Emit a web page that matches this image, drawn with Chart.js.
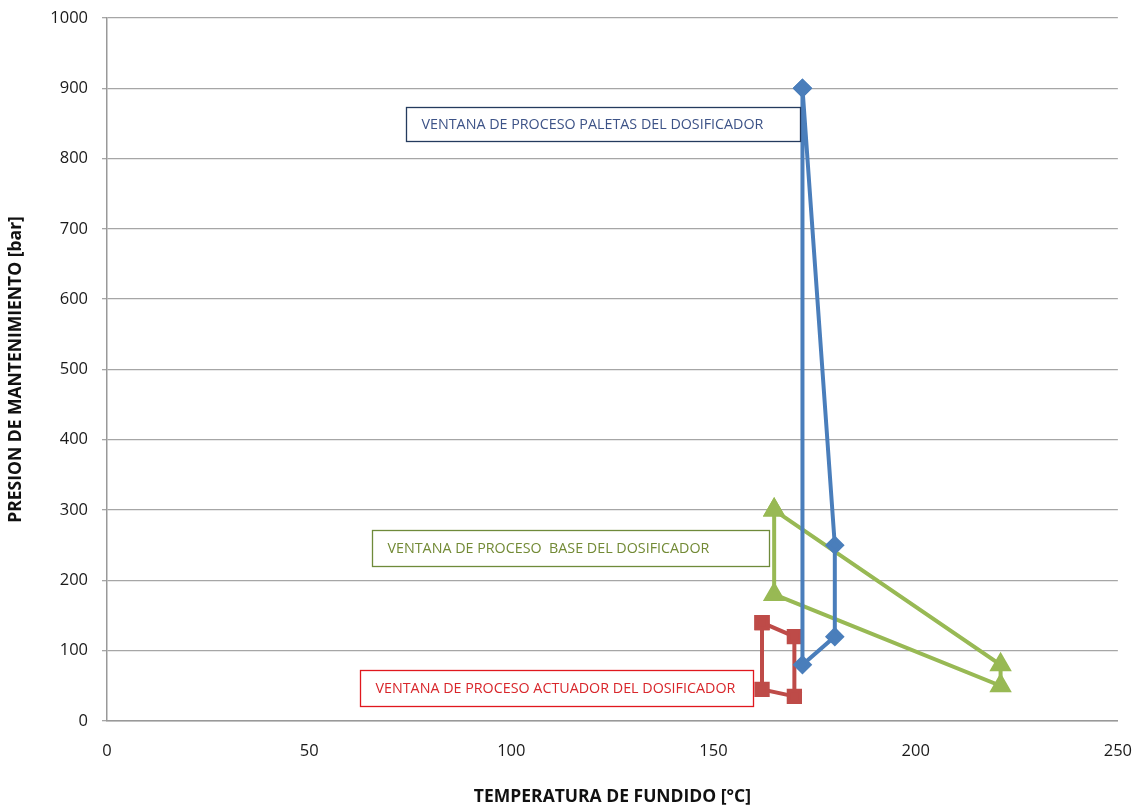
<!DOCTYPE html>
<html><head><meta charset="utf-8">
<script src="https://cdn.jsdelivr.net/npm/chart.js@4/dist/chart.umd.min.js"></script>
<style>html,body{margin:0;padding:0;background:#fff;overflow:hidden}#wrap{width:1138px;height:808px;overflow:hidden;position:relative}#c{position:absolute;left:0;top:-6px}</style>
</head><body><div id="wrap"><canvas id="c" width="1152" height="814"></canvas></div>
<script>
const xTitle = 'TEMPERATURA DE FUNDIDO [°C]';
const yTitle = 'PRESION DE MANTENIMIENTO [bar]';
const xTicks = [0, 50, 100, 150, 200, 250];
const yTicks = [0, 100, 200, 300, 400, 500, 600, 700, 800, 900, 1000];

const paletasX = [172, 172, 180, 180, 172];
const paletasY = [900, 80, 120, 250, 900];
const baseX = [165, 165, 221, 221, 165];
const baseY = [300, 180, 50, 80, 300];
const actuadorX = [162, 170, 170, 162, 162];
const actuadorY = [140, 120, 35, 45, 140];

const labelPaletas = 'VENTANA DE PROCESO PALETAS DEL DOSIFICADOR';
const labelBase = 'VENTANA DE PROCESO  BASE DEL DOSIFICADOR';
const labelActuador = 'VENTANA DE PROCESO ACTUADOR DEL DOSIFICADOR';

const pts = (xs, ys) => xs.map((x, i) => ({x, y: ys[i]}));

const boxes = [
  {text: labelPaletas, x0: 73.9, x1: 171.4, y0: 873.6, y1: 825.3, border: '#243b5e', color: '#3d5387'},
  {text: labelBase, x0: 65.5, x1: 163.7, y0: 271.3, y1: 220.2, border: '#6f8a3a', color: '#728a35'},
  {text: labelActuador, x0: 62.6, x1: 159.7, y0: 72.4, y1: 21.3, border: '#e0181e', color: '#d8262b'}
];

const FONT = '"Open Sans", Lato, sans-serif';

const boxPlugin = {
  id: 'boxes',
  afterDatasetsDraw(chart) {
    const ctx = chart.ctx, xs = chart.scales.x, ys = chart.scales.y;
    ctx.save();
    boxes.forEach(b => {
      const l = Math.round(xs.getPixelForValue(b.x0)) + 0.5;
      const r = Math.round(xs.getPixelForValue(b.x1)) + 0.5;
      const t = Math.round(ys.getPixelForValue(b.y0)) + 0.5;
      const bt = Math.round(ys.getPixelForValue(b.y1)) + 0.5;
      ctx.fillStyle = '#fff';
      ctx.fillRect(l, t, r - l, bt - t);
      ctx.strokeStyle = b.border; ctx.lineWidth = 1.3;
      ctx.strokeRect(l, t, r - l, bt - t);
      ctx.fillStyle = b.color;
      ctx.font = '14.3px ' + FONT;
      ctx.textBaseline = 'middle'; ctx.textAlign = 'left';
      ctx.fillText(b.text, l + 15, (t + bt) / 2);
    });
    ctx.restore();
  }
};

new Chart(document.getElementById('c'), {
  type: 'scatter',
  data: {
    datasets: [
      {data: pts(paletasX, paletasY), borderColor: '#4a7ebb', backgroundColor: '#4a7ebb', showLine: true, borderWidth: 4, pointStyle: 'rectRot', pointRadius: 7, pointHoverRadius: 7},
      {data: pts(baseX, baseY), borderColor: '#98b954', backgroundColor: '#98b954', showLine: true, borderWidth: 4, pointStyle: 'triangle', pointRadius: 9, pointHoverRadius: 9},
      {data: pts(actuadorX, actuadorY), borderColor: '#be4b48', backgroundColor: '#be4b48', showLine: true, borderWidth: 4, pointStyle: 'rect', pointRadius: 8, pointHoverRadius: 8}
    ]
  },
  options: {
    responsive: false, animation: false,
    layout: {padding: {left: 0, right: 4, top: 9, bottom: 0}},
    plugins: {legend: {display: false}, tooltip: {enabled: false}},
    scales: {
      x: {
        type: 'linear', min: 0, max: 250,
        afterBuildTicks: s => { s.ticks = xTicks.map(v => ({value: v})); },
        afterFit: s => { s.height = 87; },
        grid: {display: false, drawTicks: false},
        border: {color: '#999', width: 1.5},
        ticks: {color: '#1a1a1a', font: {family: FONT, size: 16.5}, padding: 20, maxRotation: 0, callback: v => String(v)},
        title: {display: true, text: xTitle, color: '#111', font: {family: FONT, size: 17.5, weight: 'bold'}, padding: {top: 8, bottom: 0}}
      },
      y: {
        type: 'linear', min: 0, max: 1000,
        afterBuildTicks: s => { s.ticks = yTicks.map(v => ({value: v})); },
        afterFit: s => { s.width = 107; },
        grid: {color: '#a6a6a6', lineWidth: 1.3, tickLength: 5, drawTicks: true},
        border: {color: '#999', width: 1.5},
        ticks: {color: '#1a1a1a', font: {family: FONT, size: 16.5}, padding: 14, callback: v => String(v)},
        title: {display: true, text: yTitle, color: '#111', font: {family: FONT, size: 17.5, weight: 'bold'}, padding: {top: 6, bottom: 0}}
      }
    }
  },
  plugins: [boxPlugin]
});
</script></body></html>
